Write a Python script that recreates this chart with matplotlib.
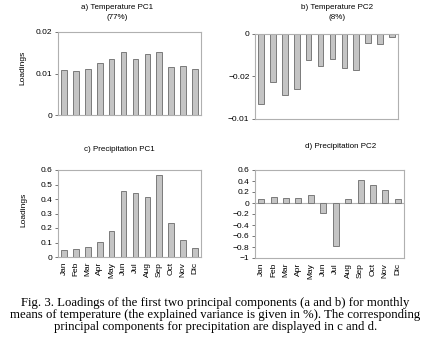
import numpy as np
import matplotlib
matplotlib.use("Agg")
import matplotlib.pyplot as plt

months = ["Jan", "Feb", "Mar", "Apr", "May", "Jun", "Jul", "Aug", "Sep", "Oct", "Nov", "Dic"]

temp_pc1 = [0.0108, 0.0105, 0.0110, 0.0125, 0.0135, 0.0151, 0.0135, 0.0148, 0.0153, 0.0115, 0.0119, 0.0112]
temp_pc2 = [-0.0082, -0.0057, -0.0072, -0.0065, -0.0031, -0.0038, -0.0030, -0.0040, -0.0042, -0.0011, -0.0012, -0.0004]
prec_pc1 = [0.046, 0.055, 0.067, 0.101, 0.177, 0.453, 0.439, 0.411, 0.563, 0.232, 0.115, 0.062]
prec_pc2 = [0.066, 0.11, 0.093, 0.10, 0.14, -0.175, -0.78, 0.08, 0.41, 0.32, 0.23, 0.075]

titles = ["a) Temperature PC1\n(77%)", "b) Temperature PC2\n(8%)",
          "c) Precipitation PC1", "d) Precipitation PC2"]

W, H = 431, 339
BAR_FC = "#c4c4c4"
BAR_EC = "#7a7a7a"
FRAME = "#b0b0b0"
SANS = "Liberation Sans"
TICK_FS = 6


def px_axes(fig, x0, y0, x1, y1):
    return fig.add_axes([x0 / W, 1 - y1 / H, (x1 - x0) / W, (y1 - y0) / H])


def style(ax):
    for s in ax.spines.values():
        s.set_color(FRAME)
        s.set_linewidth(0.8)
    ax.tick_params(axis="y", length=2, width=0.6, color="#606060", labelsize=TICK_FS, pad=2)
    ax.tick_params(axis="x", length=0)
    for lab in ax.get_yticklabels():
        lab.set_family(SANS)
    ax.set_xlim(-0.5, len(months) - 0.5)


def bars(ax, vals):
    ax.bar(np.arange(len(months)), vals, width=0.48, color=BAR_FC,
           edgecolor=BAR_EC, linewidth=0.7, zorder=2)


fig = plt.figure(figsize=(W / 100, H / 100), dpi=100)

# a) temperature PC1
ax_a = px_axes(fig, 58, 32, 201, 115)
bars(ax_a, temp_pc1)
ax_a.set_ylim(0, 0.02)
ax_a.set_yticks([0, 0.01, 0.02])
ax_a.set_yticklabels(["0", "0.01", "0.02"])
ax_a.set_xticks([])
style(ax_a)

# b) temperature PC2 (tick labels as printed in the original)
ax_b = px_axes(fig, 255, 34, 398, 119)
bars(ax_b, temp_pc2)
ax_b.set_ylim(-0.01, 0)
ax_b.set_yticks([-0.01, -0.005, 0])
ax_b.set_yticklabels(["\u22120.01", "\u22120.02", "0"])
ax_b.set_xticks([])
style(ax_b)

# c) precipitation PC1
ax_c = px_axes(fig, 58, 170, 201, 257)
bars(ax_c, prec_pc1)
ax_c.set_ylim(0, 0.6)
ax_c.set_yticks(np.arange(0, 0.61, 0.1))
ax_c.set_yticklabels(["0", "0.1", "0.2", "0.3", "0.4", "0.5", "0.6"])
ax_c.set_xticks(np.arange(len(months)))
ax_c.set_xticklabels(months, rotation=90, fontsize=TICK_FS, family=SANS)
style(ax_c)

# d) precipitation PC2
ax_d = px_axes(fig, 255, 170, 404, 258)
bars(ax_d, prec_pc2)
ax_d.axhline(0, color=FRAME, linewidth=0.8, zorder=1)
ax_d.set_ylim(-1, 0.6)
yt = np.round(np.arange(-1, 0.61, 0.2), 1)
ax_d.set_yticks(yt)
ax_d.set_yticklabels([("\u2212" if v < 0 else "") + (f"{abs(v):g}") for v in yt])
ax_d.set_xticks(np.arange(len(months)))
ax_d.set_xticklabels(months, rotation=90, fontsize=TICK_FS, family=SANS)
style(ax_d)

# titles
tkw = dict(ha="center", va="top", fontsize=5.8, family=SANS, linespacing=1.6)
fig.text(117 / W, 1 - 4 / H, titles[0], **tkw)
fig.text(337 / W, 1 - 4 / H, titles[1], **tkw)
fig.text(119 / W, 1 - 146 / H, titles[2], **tkw)
fig.text(341 / W, 1 - 143 / H, titles[3], **tkw)

# y labels
lkw = dict(ha="center", va="center", rotation=90, fontsize=6, family=SANS)
fig.text(23 / W, 1 - 68 / H, "Loadings", **lkw)
fig.text(24 / W, 1 - 210 / H, "Loadings", **lkw)

caption = ("Fig. 3. Loadings of the first two principal components (a and b) for monthly\n"
           "means of temperature (the explained variance is given in %). The corresponding\n"
           "principal components for precipitation are displayed in c and d.")
fig.text(0.5, 1 - 297 / H, caption, ha="center", va="top", fontsize=9.2,
         family="Liberation Serif", linespacing=1.02)

fig.savefig("out.png", dpi=100)
